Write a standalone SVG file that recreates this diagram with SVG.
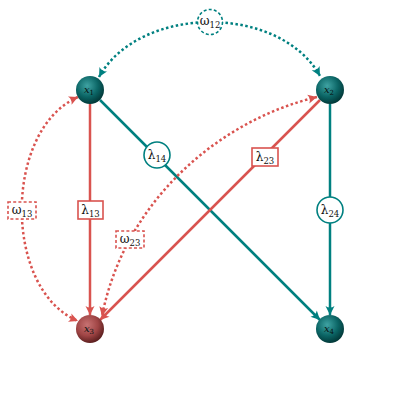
<svg xmlns="http://www.w3.org/2000/svg" width="420" height="420" viewBox="0 0 420 420">
<style>
.t{stroke:#008080;fill:none;stroke-width:2.5}
.r{stroke:#d9534f;fill:none;stroke-width:2.5}
.dot{stroke-dasharray:2.5 2.5}
.lt{fill:#fff;stroke:#008080;stroke-width:1.6}
.lr{fill:#fff;stroke:#d9534f;stroke-width:1.6}
.dash{stroke-dasharray:3 2.2}
.lab{font-size:12px;fill:#111;text-anchor:middle}
.sub{font-size:8.5px}
.nl{font-size:10px;font-style:italic;fill:#061212;text-anchor:middle}
.nsub{font-size:7px;font-style:normal}
</style>
<defs>
<radialGradient id="gt" cx="0.4" cy="0.35" r="0.65">
<stop offset="0" stop-color="#3fa3a3"/>
<stop offset="0.6" stop-color="#0b6565"/>
<stop offset="1" stop-color="#023a3a"/>
</radialGradient>
<radialGradient id="gr" cx="0.4" cy="0.35" r="0.65">
<stop offset="0" stop-color="#c77272"/>
<stop offset="0.6" stop-color="#a04545"/>
<stop offset="1" stop-color="#5e2020"/>
</radialGradient>
<marker id="at" markerUnits="userSpaceOnUse" markerWidth="12" markerHeight="12" viewBox="-10 -6 12 12" refX="0" refY="0" orient="auto-start-reverse">
<path d="M0,0 L-9,-4.5 Q-6,0 -9,4.5 Z" fill="#008080"/>
</marker>
<marker id="ar" markerUnits="userSpaceOnUse" markerWidth="12" markerHeight="12" viewBox="-10 -6 12 12" refX="0" refY="0" orient="auto-start-reverse">
<path d="M0,0 L-9,-4.5 Q-6,0 -9,4.5 Z" fill="#d9534f"/>
</marker>
</defs>
<g id="connectors">
<path class="r" d="M90,104 L90,315" marker-end="url(#ar)"/>
<path class="t" d="M100,100 L320,320" marker-end="url(#at)"/>
<path class="r" d="M320,100 L100,320" marker-end="url(#ar)"/>
<path class="t" d="M330,104 L330,315" marker-end="url(#at)"/>
<path class="t dot" d="M99,77 C140,4 280,4 320,76" marker-start="url(#at)" marker-end="url(#at)"/>
<path class="r dot" d="M78,97 C3,130 3,290 78,321" marker-start="url(#ar)" marker-end="url(#ar)"/>
<path class="r dot" d="M317,97 C220,120 125,200 102,316" marker-start="url(#ar)" marker-end="url(#ar)"/>
</g>
<g font-family="'DejaVu Serif', 'Liberation Serif', serif">
<g id="label-l13"><rect class="lr" x="78" y="201" width="25" height="18"/><text class="lab" x="90.5" y="214">λ<tspan class="sub" dy="3">13</tspan></text></g>
<g id="label-l14"><circle class="lt" cx="157" cy="155" r="13"/><text class="lab" x="157" y="159">λ<tspan class="sub" dy="3">14</tspan></text></g>
<g id="label-l23"><rect class="lr" x="252" y="148" width="26" height="18"/><text class="lab" x="265" y="161">λ<tspan class="sub" dy="3">23</tspan></text></g>
<g id="label-l24"><circle class="lt" cx="330" cy="210" r="13"/><text class="lab" x="330" y="214">λ<tspan class="sub" dy="3">24</tspan></text></g>
<g id="label-w12"><circle class="lt dash" cx="210" cy="22" r="12.5"/><text class="lab" x="210" y="25">ω<tspan class="sub" dy="3">12</tspan></text></g>
<g id="label-w13"><rect class="lr dash" x="8" y="202" width="28" height="17"/><text class="lab" x="22" y="214">ω<tspan class="sub" dy="3">13</tspan></text></g>
<g id="label-w23"><rect class="lr dash" x="116" y="231" width="28" height="17"/><text class="lab" x="130" y="243">ω<tspan class="sub" dy="3">23</tspan></text></g>
<g id="node-x1"><circle cx="90" cy="90" r="14" fill="url(#gt)"/><text class="nl" x="89" y="93">x<tspan class="nsub" dy="2">1</tspan></text></g>
<g id="node-x2"><circle cx="330" cy="90" r="14" fill="url(#gt)"/><text class="nl" x="329" y="93">x<tspan class="nsub" dy="2">2</tspan></text></g>
<g id="node-x3"><circle cx="90" cy="329" r="14" fill="url(#gr)"/><text class="nl" x="89" y="332">x<tspan class="nsub" dy="2">3</tspan></text></g>
<g id="node-x4"><circle cx="330" cy="329" r="14" fill="url(#gt)"/><text class="nl" x="329" y="332">x<tspan class="nsub" dy="2">4</tspan></text></g>
</g>
</svg>
